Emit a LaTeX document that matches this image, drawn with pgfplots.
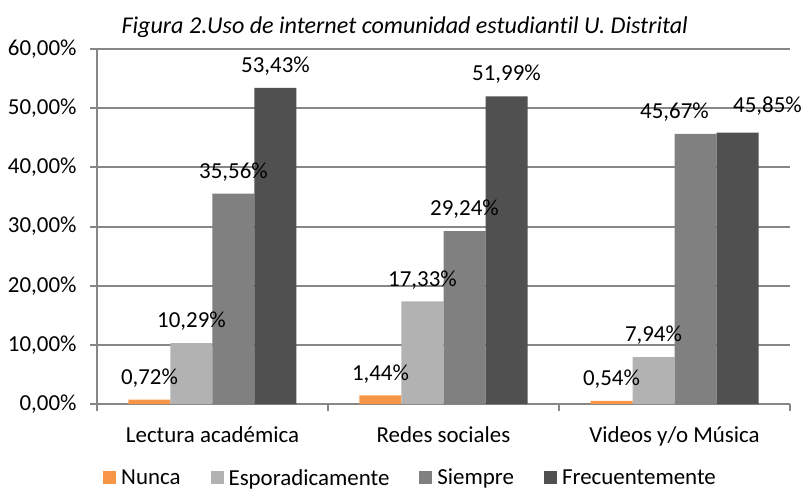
\documentclass[border=0pt]{standalone}
\usepackage{pgfplots}
\pgfplotsset{compat=1.18}
\usepackage{fontspec}
\setmainfont{Carlito}[Ligatures=NoCommon]
\definecolor{cNunca}{HTML}{F79646}
\definecolor{cEsp}{HTML}{B2B2B2}
\definecolor{cSie}{HTML}{808080}
\definecolor{cFre}{HTML}{505050}
\definecolor{gridc}{HTML}{878787}
\newcommand{\fnt}{\fontsize{23}{27}\selectfont}
\pgfplotsset{sqlegend/.style={legend image code/.code={\fill[##1] (0bp,-6.5bp) rectangle (13bp,6.5bp);}}}
\begin{document}
\begin{tikzpicture}
\useasboundingbox (-97bp,-88bp) rectangle (704bp,404bp);
\begin{axis}[
  at={(0,0)}, anchor=south west,
  scale only axis, width=693bp, height=355bp,
  ybar=0pt, bar width=42bp,
  xmin=-0.5, xmax=2.5, ymin=0, ymax=60,
  axis x line*=bottom, axis y line*=left,
  axis line style={gridc, line width=2bp},
  /pgf/number format/assume math mode=true,
  ytick={0,10,...,60},
  yticklabel={\pgfmathprintnumber[fixed,fixed zerofill,precision=2,use comma]{\tick}\%},
  yticklabel style={xshift=-10bp},
  ymajorgrids, grid style={gridc, line width=2bp},
  xtick={0,1,2},
  xticklabels={Lectura académica, Redes sociales, Videos y/o Música},
  xticklabel style={yshift=-12bp},
  major x tick style={draw=none},
  minor xtick={-0.5,0.5,1.5,2.5},
  tick align=outside, major tick length=7bp, minor tick length=7bp,
  tick style={gridc, line width=2bp},
  ticklabel style={font=\fnt, black},
  title={Figura 2.Uso de internet comunidad estudiantil U. Distrital},
  title style={font=\fontsize{24.2}{28}\selectfont\itshape, at={(0.444,1.045)}, anchor=center},
  nodes near coords={\pgfmathprintnumber[fixed,fixed zerofill,precision=2,use comma]{\pgfplotspointmeta}\%},
  nodes near coords style={font=\fnt, black, yshift=9bp},
  legend style={at={(0.451,-0.208)}, anchor=center, draw=none, fill=none,
    legend columns=4, font=\fnt, nodes={inner sep=0bp},
    /tikz/every odd column/.append style={column sep=5bp},
    /tikz/every even column/.append style={column sep=30bp}},
]
\addplot[fill=cNunca, draw=none, sqlegend]
  coordinates {(0,0.72) (1,1.44) (2,0.54)};
\addplot[fill=cEsp, draw=none, sqlegend]
  coordinates {(0,10.29) (1,17.33) (2,7.94)};
\addplot[fill=cSie, draw=none, sqlegend,
  coordinate style/.condition={\coordindex==2}{xshift=-21bp}]
  coordinates {(0,35.56) (1,29.24) (2,45.67)};
\addplot[fill=cFre, draw=none, sqlegend,
  coordinate style/.condition={\coordindex==2}{xshift=30bp, yshift=5bp}]
  coordinates {(0,53.43) (1,51.99) (2,45.85)};
\legend{Nunca, Esporadicamente, Siempre, Frecuentemente}
\end{axis}
\end{tikzpicture}
\end{document}
